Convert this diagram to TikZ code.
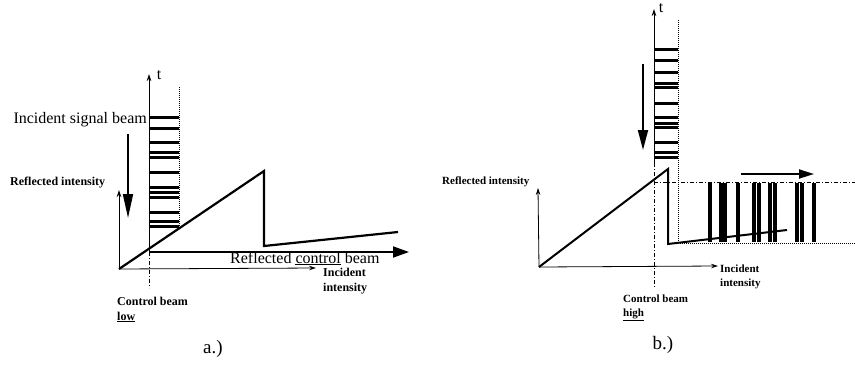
\documentclass[tikz,border=0pt]{standalone}
\usepackage{fontspec}
\setmainfont{Liberation Serif}
\usetikzlibrary{arrows.meta, positioning}

\begin{document}
\begin{tikzpicture}[x=1pt, y=-1pt,
  every node/.style={inner sep=0pt},
  axisline/.style={line width=0.8pt, -{Stealth[length=7pt, width=4.5pt]}},
  ramp/.style={line width=2.2pt, line join=miter},
  bar/.style={line width=3pt},
  vbar/.style={line width=4pt},
  bigarrow/.style={line width=1.8pt, -{Triangle[length=24pt, width=10pt]}},
  flatarrow/.style={line width=1.8pt, -{Triangle[length=16pt, width=11pt]}},
  dashdot/.style={line width=0.7pt, dash pattern=on 4pt off 2pt on 1pt off 2pt},
  dotline/.style={line width=0.7pt, dash pattern=on 1pt off 1pt},
  bigtext/.style={font=\fontsize{16}{18}\selectfont},
  tag/.style={font=\fontsize{19}{21}\selectfont},
  lbla/.style={font=\fontsize{12}{14.5}\selectfont\bfseries, align=left},
  lblb/.style={font=\fontsize{11}{14}\selectfont\bfseries, align=left},
]
\useasboundingbox (0,0) rectangle (855,365);

% a.)
\coordinate (oa) at (119,269);
\coordinate (ia) at (316,268);
\coordinate (ra) at (119,190);
\coordinate (pa) at (264,171);
\coordinate (da) at (264,246);
\coordinate (ea) at (398,232);
\coordinate (ta) at (149,74);
\coordinate (tba) at (149,252);
\coordinate (cba) at (149,288);
\coordinate (rca) at (409,252);
\coordinate (dota) at (179,87);
\coordinate (dotb) at (179,228);
\coordinate (sa1) at (128,134);
\coordinate (sa2) at (128,218);

\foreach \y in {117,128,142,152,157,172,187,192,197,212,221,226}
  \draw[bar] (149,\y) -- (179,\y);
\draw[axisline] (oa) -- (ia);
\draw[axisline] (oa) -- (ra);
\draw[axisline] (tba) -- (ta);
\draw[dashdot] (tba) -- (cba);
\draw[dotline] (dota) -- (dotb);
\draw[flatarrow] (tba) -- (rca);
\draw[bigarrow] (sa1) -- (sa2);
\draw[ramp] (oa) -- (pa) -- (da) -- (ea);

\node[bigtext] (ta-lbl) at (159,75) {t};
\node[bigtext, anchor=east] (sig-a) at (147,120) {Incident signal beam};
\node[lbla, anchor=west] (ri-a) at (10,183) {Reflected intensity};
\node[bigtext, anchor=base west] (rc-a) at (230,263) {Reflected \underline{control} beam};
\node[lbla, anchor=north west] (ii-a) at (323,268) {Incident\\intensity};
\node[lbla, anchor=north west] (cb-a) at (117,297) {Control beam\\\underline{low}};
\node[tag] (tag-a) at (213,349) {a.)};

% b.)
\coordinate (ob) at (539,267);
\coordinate (ib) at (718,266);
\coordinate (rb) at (538,188);
\coordinate (pb) at (668,169);
\coordinate (db) at (668,244);
\coordinate (eb) at (787,230);
\coordinate (tb) at (654,9);
\coordinate (tbb) at (654,163);
\coordinate (cbb) at (654,288);
\coordinate (dotc) at (678,20);
\coordinate (dotd) at (678,243);
\coordinate (hl1) at (654,182);
\coordinate (hl2) at (855,182);
\coordinate (hl3) at (680,243);
\coordinate (hl4) at (855,243);
\coordinate (sb1) at (643,64);
\coordinate (sb2) at (643,150);
\coordinate (mb1) at (741,174);
\coordinate (mb2) at (814,174);

\foreach \y in {49,60,72,83,87,103,117,123,127,142,152,157}
  \draw[bar] (654,\y) -- (678,\y);
\foreach \x in {710,721,725,738,754,759,770,775,797,802,814}
  \draw[vbar] (\x,183) -- (\x,242);
\draw[axisline] (ob) -- (ib);
\draw[axisline] (ob) -- (rb);
\draw[axisline] (tbb) -- (tb);
\draw[dashdot] (tbb) -- (cbb);
\draw[dashdot] (hl1) -- (hl2);
\draw[dotline] (dotc) -- (dotd);
\draw[dotline] (hl3) -- (hl4);
\draw[bigarrow, -{Triangle[length=20pt, width=10pt]}] (sb1) -- (sb2);
\draw[flatarrow, -{Triangle[length=15pt, width=9pt]}] (mb1) -- (mb2);
\draw[ramp, line width=2pt] (ob) -- (pb) -- (db) -- (eb);

\node[bigtext] (tb-lbl) at (661,8) {t};
\node[lblb, anchor=west] (ri-b) at (442,182) {Reflected intensity};
\node[lblb, anchor=north west] (ii-b) at (720,265) {Incident\\intensity};
\node[lblb, anchor=north west] (cb-b) at (623,295) {Control beam\\\underline{high}};
\node[tag] (tag-b) at (663,345) {b.)};
\end{tikzpicture}
\end{document}
